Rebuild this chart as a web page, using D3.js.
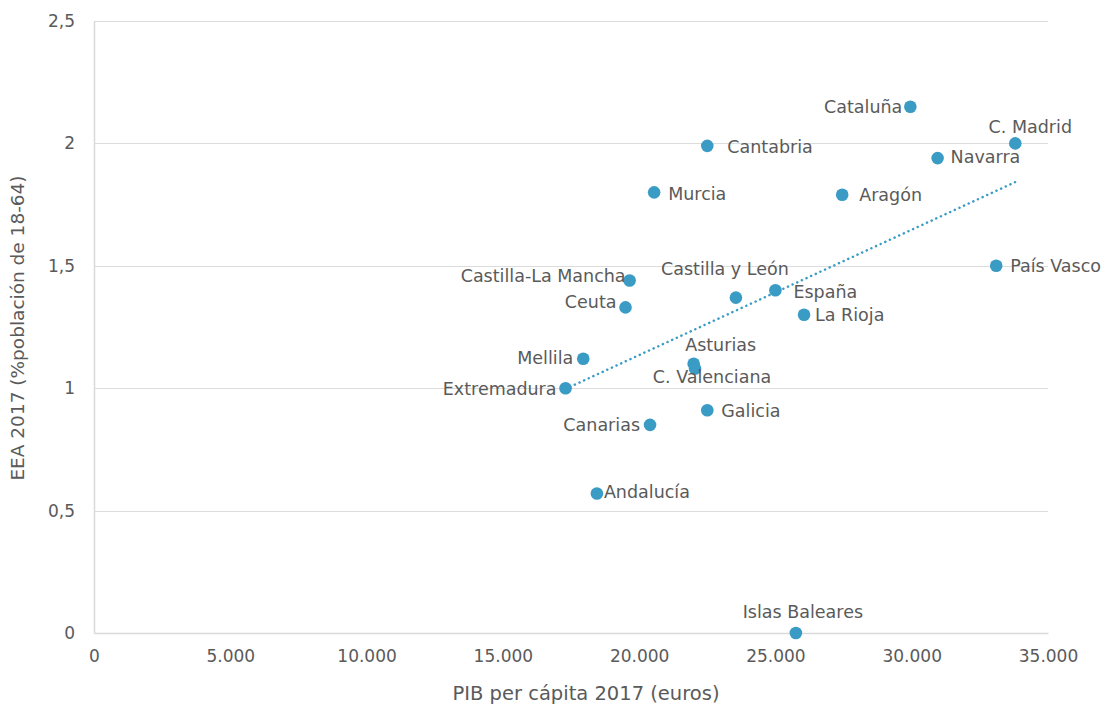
<!DOCTYPE html>
<html>
<head>
<meta charset="utf-8">
<script src="https://cdn.jsdelivr.net/npm/d3@7"></script>
<style>
  html, body { margin: 0; padding: 0; background: #fff; }
  svg text { font-family: "DejaVu Sans", "Open Sans", sans-serif; fill: #5a5a5a; }
</style>
</head>
<body>
<svg id="chart" width="1106" height="709"></svg>
<script>
// Regions of Spain: GDP per capita 2017 (euros) vs early-stage entrepreneurial activity 2017
const regions = ["Cataluña", "C. Madrid", "Cantabria", "Navarra", "Murcia", "Aragón",
  "País Vasco", "Castilla-La Mancha", "Castilla y León", "España", "Ceuta", "La Rioja",
  "Mellila", "Asturias", "C. Valenciana", "Extremadura", "Galicia", "Canarias",
  "Andalucía", "Islas Baleares"];
const pib = [29950, 33800, 22500, 30950, 20550, 27450,
  33100, 19650, 23550, 25000, 19500, 26050,
  17950, 22000, 22050, 17300, 22500, 20400,
  18450, 25750];
const eea = [2.15, 2.0, 1.99, 1.94, 1.8, 1.79,
  1.5, 1.44, 1.37, 1.4, 1.33, 1.3,
  1.12, 1.1, 1.08, 1.0, 0.91, 0.85,
  0.57, 0.0];
// Linear trend endpoints (PIB, EEA)
const trendPib = [17300, 33800];
const trendEea = [0.997, 1.842];

const xTicks = [0, 5000, 10000, 15000, 20000, 25000, 30000, 35000];
const yTicks = [0, 0.5, 1, 1.5, 2, 2.5];

// Label placement per region (pixel offset from the dot and text anchor)
const labelAnchor = ["end", "middle", "start", "start", "start", "start",
  "start", "end", "middle", "start", "end", "start",
  "end", "middle", "middle", "end", "start", "end",
  "start", "middle"];
const labelDx = [-8, 15, 20, 13, 14, 17, 14, -4, -11, 18, -9, 11, -10, 27, 17, -9, 14, -10, 7, 7];
const labelDy = [0, -17, 1, -1, 1, 0, 0, -5, -29, 1, -6, 0, -1, -19, 8, 0, 0, 0, -2, -21];

const svg = d3.select("#chart");
const margin = { left: 94, right: 58, top: 21, bottom: 76 };
const W = 1106, H = 709;

const x = d3.scaleLinear().domain([0, 35000]).range([margin.left, W - margin.right]);
const y = d3.scaleLinear().domain([0, 2.5]).range([H - margin.bottom, margin.top]);

const fmtX = d3.formatLocale({ decimal: ",", thousands: ".", grouping: [3], currency: ["", "€"] }).format(",d");
const fmtY = d => String(d).replace(".", ",");

// horizontal gridlines
svg.append("g")
  .selectAll("line")
  .data(yTicks.filter(d => d > 0))
  .join("line")
  .attr("x1", x(0)).attr("x2", x(35000))
  .attr("y1", d => Math.round(y(d)) + 0.5).attr("y2", d => Math.round(y(d)) + 0.5)
  .attr("stroke", "#dcdcdc").attr("stroke-width", 1);

// y axis
const yAxis = svg.append("g")
  .attr("transform", `translate(${x(0)},0)`)
  .call(d3.axisLeft(y).tickValues(yTicks).tickFormat(fmtY).tickSize(0).tickPadding(19));
yAxis.select(".domain").attr("stroke", "#d9d9d9").attr("stroke-width", 1.5);
yAxis.selectAll("text").attr("font-size", 17).attr("font-family", null).style("fill", "#5a5a5a");

// x axis
const xAxis = svg.append("g")
  .attr("transform", `translate(0,${y(0)})`)
  .call(d3.axisBottom(x).tickValues(xTicks).tickFormat(fmtX).tickSize(0).tickPadding(17));
xAxis.select(".domain").attr("stroke", "#d9d9d9").attr("stroke-width", 1.5);
xAxis.selectAll("text").attr("font-size", 17).attr("font-family", null).style("fill", "#5a5a5a");

// axis titles
svg.append("text")
  .attr("x", 586).attr("y", 700)
  .attr("text-anchor", "middle").attr("font-size", 19.5)
  .text("PIB per cápita 2017 (euros)");
svg.append("text")
  .attr("transform", `translate(24,328) rotate(-90)`)
  .attr("text-anchor", "middle").attr("font-size", 18.5)
  .text("EEA 2017 (%población de 18-64)");

// trend line
svg.append("line")
  .attr("x1", x(trendPib[0])).attr("y1", y(trendEea[0]))
  .attr("x2", x(trendPib[1])).attr("y2", y(trendEea[1]))
  .attr("stroke", "#3a9bc4").attr("stroke-width", 2.5)
  .attr("stroke-dasharray", "0.1 5").attr("stroke-linecap", "round");

const pts = regions.map((r, i) => ({
  name: r, px: pib[i], v: eea[i],
  anchor: labelAnchor[i], dx: labelDx[i], dy: labelDy[i]
}));

// points
svg.append("g")
  .selectAll("circle")
  .data(pts)
  .join("circle")
  .attr("cx", d => x(d.px)).attr("cy", d => y(d.v))
  .attr("r", 6.3)
  .attr("fill", "#3a9bc4");

// labels
svg.append("g")
  .selectAll("text")
  .data(pts)
  .join("text")
  .attr("x", d => x(d.px) + d.dx)
  .attr("y", d => y(d.v) + d.dy)
  .attr("dy", "0.36em")
  .attr("text-anchor", d => d.anchor)
  .attr("font-size", 17.5)
  .text(d => d.name);
</script>
</body>
</html>
